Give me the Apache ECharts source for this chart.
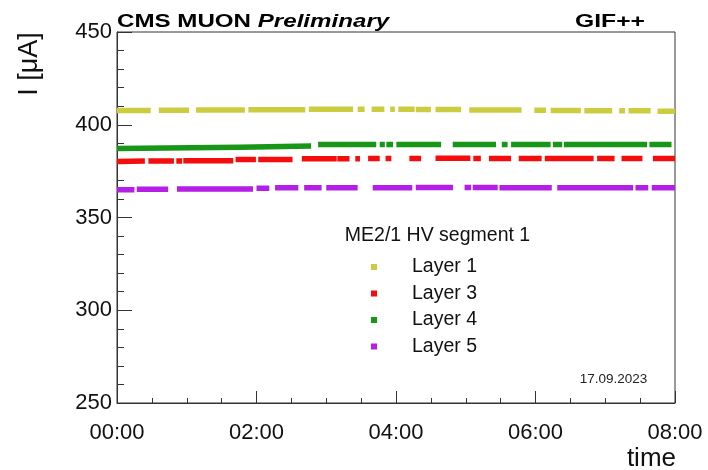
<!DOCTYPE html>
<html>
<head>
<meta charset="utf-8">
<script src="https://cdn.jsdelivr.net/npm/echarts@6/dist/echarts.min.js"></script>
<style>html,body{margin:0;padding:0;background:#fff;}#c{width:708px;height:470px;}</style>
</head>
<body>
<div id="c"></div>
<script>
// Time in minutes since 00:00, current in µA. Each segment = list of [minute, value] points.
const xTickLabels = ['00:00', '02:00', '04:00', '06:00', '08:00'];
const seriesNames = ['Layer 1', 'Layer 3', 'Layer 4', 'Layer 5'];
const layer1 = [
  [[0,407.7],[29,407.7]], [[36,407.8],[62,407.8]], [[68,408.0],[110,408.0]], [[113,408.1],[162,408.1]],
  [[165,408.3],[203,408.3]], [[207,408.3],[213,408.3]], [[219,408.3],[230,408.3]], [[235,408.3],[239,408.3]],
  [[242,408.3],[256,408.3]], [[257,408.2],[270,408.2]], [[274,408.2],[296,408.2]], [[303,408.0],[348,408.0]],
  [[359,407.8],[369,407.8]], [[373,407.7],[399,407.7]], [[402,407.6],[426,407.6]], [[432,407.5],[437,407.5]],
  [[440,407.5],[459,407.5]], [[465,407.3],[480,407.3]]
];
const layer3 = [
  [[0,380.2],[24,380.4]], [[27,380.5],[49,380.5]], [[51,380.5],[56,380.5]], [[57,380.6],[100,380.6]],
  [[102,381.2],[119.5,381.2]], [[121.5,381.3],[151,381.3]], [[159,381.7],[189,381.7]], [[189.5,381.7],[200,381.7]],
  [[205,381.7],[209,381.7]], [[216,381.8],[226,381.8]], [[231,381.8],[236,381.8]], [[251.5,381.8],[261.6,381.8]],
  [[274,381.9],[304,381.9]], [[306.5,381.8],[313,381.8]], [[320,381.8],[339,381.8]], [[345.6,381.8],[365.3,381.8]],
  [[368,381.8],[410,381.8]], [[413,381.8],[428,381.8]], [[434,381.8],[452,381.8]], [[461,381.8],[480,381.8]]
];
const layer4 = [
  [[0,387.2],[106,387.9],[167,388.6]], [[173,389.3],[223,389.3]], [[226,389.3],[230.4,389.3]], [[231.7,389.3],[237.5,389.3]],
  [[240.3,389.4],[278.8,389.4]], [[288.8,389.4],[326,389.4]], [[331,389.4],[336,389.4]], [[339,389.4],[373,389.4]],
  [[375,389.4],[383,389.4]], [[384.5,389.4],[456,389.4]], [[458,389.4],[477,389.4]]
];
const layer5 = [
  [[0,365.0],[15,365.0]], [[17,365.2],[44,365.2]], [[51.6,365.4],[117,365.4]], [[120,365.8],[131,365.8]],
  [[136,366.0],[156,366.0]], [[161,366.0],[176,366.0]], [[180,366.1],[207,366.1]], [[220,366.1],[254,366.1]],
  [[257,366.2],[289,366.2]], [[299,366.2],[304.6,366.2]], [[306,366.2],[327.5,366.2]], [[329,366.1],[374,366.1]],
  [[378.7,366.1],[444,366.1]], [[446,366.1],[457,366.1]], [[460,366.1],[480,366.1]]
];
const colors = ['#cccc40', '#f50d0d', '#179617', '#b41ee6'];

function toData(segs) {
  const out = [];
  segs.forEach(function (seg, i) {
    seg.forEach(function (p) { out.push([p[0] / 60, p[1]]); });
    if (i < segs.length - 1) out.push([seg[seg.length - 1][0] / 60, null]);
  });
  return out;
}
const allLayers = [layer1, layer3, layer4, layer5];
const FONT = '"Liberation Sans", Arial, Helvetica, sans-serif';

const chart = echarts.init(document.getElementById('c'), null, {renderer: 'canvas'});
chart.setOption({
  animation: false,
  backgroundColor: '#fff',
  grid: {left: 117, right: 33, top: 32, bottom: 67, show: true, borderColor: '#333', borderWidth: 1, outerBoundsMode: 'none'},
  xAxis: {
    type: 'value', min: 0, max: 8, interval: 2,
    axisLine: {lineStyle: {color: '#333', width: 1}},
    axisTick: {inside: true, length: 12, lineStyle: {color: '#333'}},
    minorTick: {show: true, splitNumber: 4, length: 5, lineStyle: {color: '#333'}},
    splitLine: {show: false},
    axisLabel: {fontSize: 22, color: '#111', fontFamily: FONT, margin: 19,
      formatter: function (v) { return xTickLabels[Math.round(v / 2)]; }}
  },
  yAxis: {
    type: 'value', min: 250, max: 450, interval: 50,
    axisLine: {show: true, lineStyle: {color: '#333', width: 1}},
    axisTick: {show: true, inside: true, length: 15, lineStyle: {color: '#333'}},
    minorTick: {show: true, splitNumber: 5, length: 7, lineStyle: {color: '#333'}},
    splitLine: {show: false},
    axisLabel: {fontSize: 22, color: '#111', fontFamily: FONT, margin: 5}
  },
  legend: {
    orient: 'vertical', left: 366, top: 252, itemWidth: 6, itemHeight: 6, itemGap: 6.5,
    icon: 'rect',
    textStyle: {fontSize: 19.5, color: '#111', fontFamily: FONT, padding: [0, 0, 0, 30]},
    data: seriesNames
  },
  series: allLayers.map(function (segs, i) {
    return {
      name: seriesNames[i], type: 'line', showSymbol: false, connectNulls: false,
      itemStyle: {color: colors[i]},
      lineStyle: {color: colors[i], width: 5.5, cap: 'butt', join: 'miter'},
      data: toData(segs)
    };
  }),
  graphic: [
    {type: 'text', x: 117, y: 22, scaleX: 1.27, style: {
      text: '{b|CMS MUON }{i|Preliminary}', align: 'left', verticalAlign: 'middle',
      rich: {b: {fontSize: 19, fontWeight: 'bold', fontFamily: FONT, fill: '#000'},
             i: {fontSize: 19, fontWeight: 'bold', fontStyle: 'italic', fontFamily: FONT, fill: '#000'}}}},
    {type: 'text', x: 645, y: 22, scaleX: 1.3, style: {text: 'GIF++', align: 'right', verticalAlign: 'middle',
      fontSize: 19, fontWeight: 'bold', fontFamily: FONT, fill: '#000'}},
    {type: 'text', x: 30, y: 64, rotation: Math.PI / 2, style: {text: 'I [μA]', align: 'center', verticalAlign: 'middle',
      fontSize: 27, fontFamily: FONT, fill: '#111'}},
    {type: 'text', x: 676, y: 459, style: {text: 'time', align: 'right', verticalAlign: 'middle',
      fontSize: 26, fontFamily: FONT, fill: '#111'}},
    {type: 'text', x: 437.5, y: 236, style: {text: 'ME2/1 HV segment 1', align: 'center', verticalAlign: 'middle',
      fontSize: 19.5, fontFamily: FONT, fill: '#111'}},
    {type: 'text', x: 613.5, y: 379.5, style: {text: '17.09.2023', align: 'center', verticalAlign: 'middle',
      fontSize: 13.5, fontFamily: FONT, fill: '#222'}}
  ]
});
</script>
</body>
</html>
